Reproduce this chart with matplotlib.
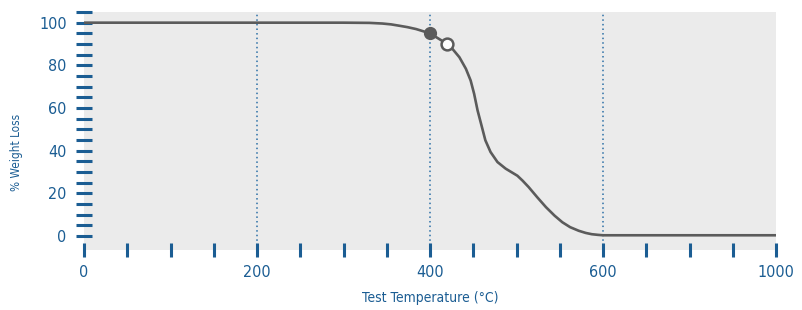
import matplotlib
matplotlib.use("Agg")
import matplotlib.pyplot as plt
import numpy as np

# data
temp = [0, 100, 200, 300, 330, 345, 355, 364, 374, 384, 400, 420, 426, 434, 441.5,
        447, 451, 455, 459, 464, 470, 478, 487.5, 501, 507, 514, 524, 534, 544, 553,
        562, 572, 580, 587, 594, 600, 700, 800, 900, 1000]
weight = [100, 100, 100, 100, 99.9, 99.6, 99.2, 98.6, 97.9, 97.0, 95, 90, 87.7, 83.8, 78.4,
          72.9, 66.7, 58.9, 52.7, 44.9, 39.4, 34.7, 31.6, 28.3, 26.0, 23, 18.2, 13.6, 9.6, 6.5,
          4.2, 2.5, 1.5, 0.9, 0.6, 0.4, 0.4, 0.4, 0.4, 0.4]
filled_pt = (400, 95)
open_pt = (420, 90)

x_ticks = list(range(0, 601, 50)) + [700, 800, 900, 1000]
x_labels = ["0", "200", "400", "600", "1000"]
y_ticks = list(range(0, 106, 5))
y_labels = ["0", "20", "40", "60", "80", "100"]
grid_x = [200, 400, 600]

blue = "#1b5d93"
plt.rcParams['font.family'] = ['DejaVu Sans']
plt.rcParams['font.stretch'] = 'condensed'


# axis is evenly spaced ticks, but 600-1000 is squeezed to half
def fwd(x):
    return np.interp(x, [0, 600, 1000], [0, 600, 800])


def inv(x):
    return np.interp(x, [0, 600, 800], [0, 600, 1000])


fig = plt.figure(figsize=(8.02, 3.10), dpi=100)
ax = fig.add_axes([84 / 802, 60 / 310, 692 / 802, 238 / 310])
ax.set_facecolor("#ebebeb")
ax.set_xscale("function", functions=(fwd, inv))
ax.set_xlim(0, 1000)
ax.set_ylim(-6.5, 104.8)

for g in grid_x:
    ax.axvline(g, color="#2a6fa6", lw=1.1, ls=(0, (1, 2)), zorder=1)

ax.plot(temp, weight, color="#5b5b5b", lw=1.9, zorder=3, solid_capstyle="round")
ax.plot(*filled_pt, "o", ms=8.5, color="#5b5b5b", zorder=4)
ax.plot(*open_pt, "o", ms=8.5, mfc="white", mec="#5b5b5b", mew=1.8, zorder=4)

ax.set_xticks(x_ticks)
ax.set_xticklabels([str(t) if str(t) in x_labels else "" for t in x_ticks])
ax.set_yticks(y_ticks)
ax.set_yticklabels([str(t) if str(t) in y_labels else "" for t in y_ticks])
ax.tick_params(axis="x", direction="inout", length=10, width=2.2, color=blue,
               labelcolor=blue, labelsize=11.5, pad=6)
ax.tick_params(axis="y", direction="inout", length=11, width=2.2, color=blue,
               labelcolor=blue, labelsize=11.5, pad=7)
for s in ax.spines.values():
    s.set_visible(False)

ax.set_xlabel("Test Temperature (°C)", color=blue, fontsize=10, labelpad=8)
ax.set_ylabel("% Weight Loss", color=blue, fontsize=8.5)
ax.yaxis.set_label_coords(-0.088, 0.41)

fig.savefig("out.png", dpi=100)
